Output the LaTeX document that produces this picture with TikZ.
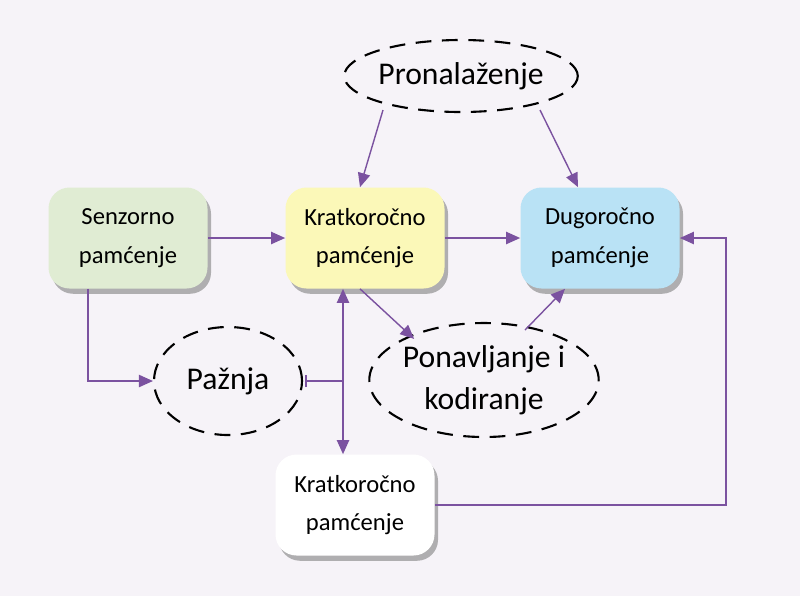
\documentclass[tikz,border=0pt]{standalone}
\usepackage{fontspec}
\setmainfont{Carlito}
\usetikzlibrary{shadows,arrows.meta,shapes.geometric}
\definecolor{bgcol}{HTML}{F6F3F8}
\definecolor{arrcol}{HTML}{7B52A0}
\definecolor{sencol}{HTML}{E0ECD3}
\definecolor{kratcol}{HTML}{FBF8B8}
\definecolor{dugcol}{HTML}{B9E2F5}
\begin{document}
\begin{tikzpicture}
      [%%%%%%%%%%%%%%%%%%%%%%%%%%%%%%
          x=0.02cm, y=-0.02cm,
          box/.style={rectangle,rounded corners=12pt,minimum width=159*0.02cm,
            minimum height=101*0.02cm,align=center,font=\fontsize{14}{22}\selectfont,
            drop shadow={shadow xshift=2pt,shadow yshift=-3pt,opacity=0.6}},
          oval/.style={ellipse,draw=black,very thick,dash pattern=on 9pt off 6pt,
            align=center,inner sep=0pt,font=\fontsize{18}{24}\selectfont},
          link/.style={draw=arrcol,thick,-{Triangle[length=8pt,width=7pt]}}
      ]%%%%%%%%%%%%%%%%%%%%%%%%%%%%%%
  \fill[bgcol] (0,0) rectangle (800,596);

  \node[box,fill=sencol] (senz) at (128,238) {Senzorno\\pamćenje};
  \node[box,fill=kratcol] (krat) at (365,238) {Kratkoročno\\pamćenje};
  \node[box,fill=dugcol] (dug) at (600,238) {Dugoročno\\pamćenje};
  \node[box,fill=white] (kratb) at (355,505) {Kratkoročno\\pamćenje};

  \node[oval,minimum width=228*0.02cm,minimum height=72*0.02cm] (pron) at (461,76) {Pronalaženje};
  \node[oval,minimum width=148*0.02cm,minimum height=108*0.02cm] (paz) at (228,381) {Pažnja};
  \node[oval,minimum width=228*0.02cm,minimum height=114*0.02cm] (ponav) at (484,380) {Ponavljanje i\\kodiranje};

  \coordinate (cross) at (343,381);
  \coordinate (bar) at (306,381);
  \coordinate (pronl) at (383,110);
  \coordinate (pronr) at (540,110);
  \coordinate (ponavr) at (525,330);

  \draw[link] (senz) -- (krat);
  \draw[link] (krat) -- (dug);
  \draw[link] (pronl) -- ([xshift=-5*0.02cm]krat.north);
  \draw[link] (pronr) -- ([xshift=-22*0.02cm]dug.north);
  \draw[link] ([xshift=-40*0.02cm]senz.south) |- (paz.west);
  \draw[link,{Triangle[length=8pt,width=7pt]}-{Triangle[length=8pt,width=7pt]}]
    (krat.south -| cross) -- (kratb.north -| cross);
  \draw[draw=arrcol,thick] (bar) -- (cross);
  \draw[draw=arrcol,thick] ([yshift=-6*0.02cm]bar) -- ([yshift=6*0.02cm]bar);
  \draw[link] ([xshift=-5*0.02cm]krat.south) -- ([xshift=12*0.02cm]ponav.north west);
  \draw[link] (ponavr) -- ([xshift=-35*0.02cm]dug.south);
  \draw[link] (kratb.east) -- ++(291,0) |- (dug.east);
\end{tikzpicture}
\end{document}
